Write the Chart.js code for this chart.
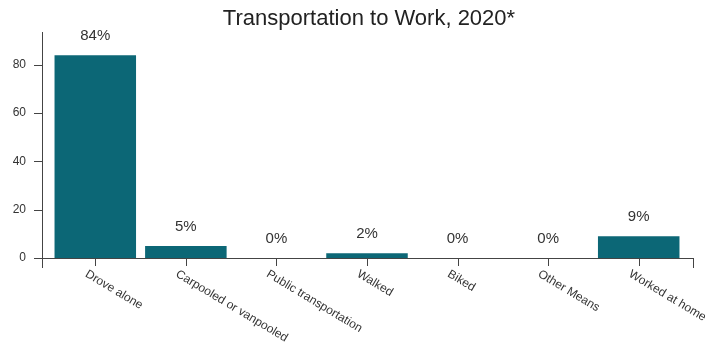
<!DOCTYPE html>
<html>
<head>
<meta charset="utf-8">
<title>Transportation to Work, 2020*</title>
<script src="https://cdn.jsdelivr.net/npm/chart.js@4/dist/chart.umd.min.js"></script>
<style>
    html, body { margin: 0; padding: 0; background: #fff; }
    #wrap { width: 711px; height: 347px; }
</style>
</head>
<body>
<div id="wrap"><canvas id="modes"></canvas></div>
<script>
var MODES = ['Drove alone', 'Carpooled or vanpooled', 'Public transportation', 'Walked', 'Biked', 'Other Means', 'Worked at home'];
var SHARES = [84, 5, 0, 2, 0, 0, 9];
var Y_TICKS = [0, 20, 40, 60, 80];
var Y_MAX = 93.6;
var TITLE = 'Transportation to Work, 2020*';

var BAR_COLOR = '#0c6776';
var AXIS_COLOR = '#444';
var TEXT_COLOR = '#333';
var FONT = 'Arial, "Liberation Sans", Helvetica, sans-serif';

// axes are drawn by hand: the lines stick out past the bars on both sides
// and the category labels lean down to the right
var axisPlugin = {
    id: 'axisLines',
    afterDraw: function(chart) {
        var ctx = chart.ctx;
        var xs = chart.scales.x, ys = chart.scales.y;
        var area = chart.chartArea;
        var y0 = ys.getPixelForValue(0);
        var left = area.left - 8, right = area.right + 9;

        ctx.save();

        // title, centred over the plot rather than the whole canvas
        ctx.fillStyle = '#222';
        ctx.font = '22px ' + FONT;
        ctx.textAlign = 'center';
        ctx.textBaseline = 'middle';
        ctx.fillText(TITLE, (area.left + area.right) / 2 + 2, 19);

        ctx.strokeStyle = AXIS_COLOR;
        ctx.lineWidth = 1;
        ctx.beginPath();
        ctx.moveTo(left + 0.5, area.top);
        ctx.lineTo(left + 0.5, y0 + 10);
        Y_TICKS.forEach(function(t) {
            var py = Math.round(ys.getPixelForValue(t)) + 0.5;
            ctx.moveTo(left - 8, py);
            ctx.lineTo(left, py);
        });
        ctx.moveTo(left, Math.round(y0) + 0.5);
        ctx.lineTo(right, Math.round(y0) + 0.5);
        ctx.moveTo(right + 0.5, y0);
        ctx.lineTo(right + 0.5, y0 + 10);
        MODES.forEach(function(m, i) {
            var px = Math.round(xs.getPixelForValue(i)) + 0.5;
            ctx.moveTo(px, y0);
            ctx.lineTo(px, y0 + 8);
        });
        ctx.stroke();

        // category names
        ctx.fillStyle = TEXT_COLOR;
        ctx.font = '12px ' + FONT;
        ctx.textAlign = 'left';
        ctx.textBaseline = 'top';
        MODES.forEach(function(m, i) {
            var px = xs.getPixelForValue(i);
            ctx.save();
            ctx.translate(px - 6, y0 + 10);
            ctx.rotate(31 * Math.PI / 180);
            ctx.fillText(m, 0, 0);
            ctx.restore();
        });

        // value labels over the bars
        ctx.font = '15px ' + FONT;
        ctx.textAlign = 'center';
        ctx.textBaseline = 'middle';
        SHARES.forEach(function(v, i) {
            var px = xs.getPixelForValue(i);
            var py = ys.getPixelForValue(v);
            ctx.fillText(v + '%', px, py - 19);
        });
        ctx.restore();
    }
};

var modeChart = new Chart(document.getElementById('modes'), {
    type: 'bar',
    data: {
        labels: MODES,
        datasets: [{
            data: SHARES,
            backgroundColor: BAR_COLOR,
            borderWidth: 0,
            barPercentage: 0.9,
            categoryPercentage: 1.0
        }]
    },
    options: {
        responsive: true,
        maintainAspectRatio: false,
        animation: false,
        layout: { padding: { left: 0, right: 27, top: 32, bottom: 0 } },
        plugins: {
            legend: { display: false },
            tooltip: { enabled: false },
            title: { display: false }
        },
        scales: {
            x: {
                grid: { display: false, drawTicks: false },
                border: { display: false },
                ticks: { display: false },
                afterFit: function(scale) { scale.height = 89; }
            },
            y: {
                min: 0,
                max: Y_MAX,
                grid: { display: false, drawTicks: false },
                border: { display: false },
                afterBuildTicks: function(scale) {
                    scale.ticks = Y_TICKS.map(function(v) { return { value: v }; });
                },
                ticks: {
                    color: TEXT_COLOR,
                    padding: 24,
                    font: { family: FONT, size: 12 }
                },
                afterFit: function(scale) { scale.width = 50; }
            }
        }
    },
    plugins: [axisPlugin]
});
</script>
</body>
</html>
